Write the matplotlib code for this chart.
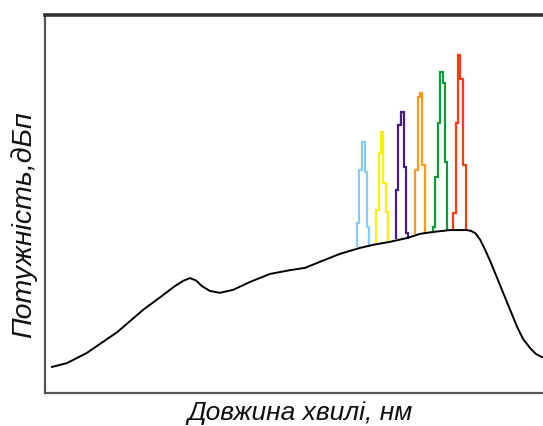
import numpy as np
import matplotlib
matplotlib.use("Agg")
import matplotlib.pyplot as plt

# ASE spectrum envelope (wavelength, power) in arbitrary units 0..100
wavelength = [1.4, 4.4, 8.4, 14.5, 19.7, 23.7, 26.1, 27.8, 29.1, 30.3, 31.5, 33.1,
              35.1, 37.8, 41.2, 45.2, 49.2, 52.2, 55.2, 59.2, 63.3, 65.9, 69.3,
              72.7, 75.3, 77.9, 81.3, 84.7, 85.5, 86.4, 87.4, 88.4, 89.4, 90.8,
              92.0, 93.4, 94.8, 96.0, 97.4, 98.6, 99.8]
power = [6.9, 7.9, 10.6, 16.1, 22.0, 25.9, 28.3, 29.7, 30.4, 29.8, 28.3, 27.0,
         26.5, 27.3, 29.4, 31.5, 32.5, 33.1, 34.7, 36.8, 38.4, 39.2, 40.0,
         41.0, 42.1, 42.6, 43.1, 43.1, 42.9, 42.3, 40.5, 37.8, 34.9, 30.4,
         26.5, 22.0, 17.5, 14.3, 11.9, 10.3, 9.5]

# WDM channels: step edges (wavelength) and step levels (power)
channel_colors = ["#86cdf8", "#f7f200", "#4a1a86", "#ff9a1a", "#0f9a3a", "#ff3b12"]
channel_edges = [
    [62.65, 63.15, 63.65, 64.16, 64.66, 65.06],
    [66.47, 66.97, 67.47, 67.97, 68.47, 68.88],
    [70.48, 70.98, 71.49, 71.99, 72.49, 72.89],
    [74.30, 74.80, 75.30, 75.80, 76.31],
    [77.91, 78.31, 78.82, 79.32, 79.82, 80.32, 80.72],
    [81.93, 82.43, 82.93, 83.43, 83.94, 84.44],
]
channel_levels = [
    [44.97, 58.99, 66.40, 58.47, 43.92],
    [48.41, 63.49, 69.05, 55.56, 47.88],
    [53.70, 70.90, 74.34, 59.79, 42.33],
    [58.99, 78.31, 79.37, 60.32],
    [43.92, 57.14, 71.43, 84.92, 82.01, 61.11],
    [47.62, 71.43, 89.42, 83.07, 60.32],
]

fig = plt.figure(figsize=(5.43, 4.26), dpi=100)
ax = fig.add_axes([45 / 543, 33 / 426, 1 - 45 / 543, 378 / 426])

for edges, levels, color in zip(channel_edges, channel_levels, channel_colors):
    base = np.interp(np.mean(edges), wavelength, power)
    ax.stairs(levels, edges, baseline=base, fill=False, color=color, lw=1.6)

ax.plot(wavelength, power, color="black", lw=1.4, zorder=3)

ax.set_xlim(0, 100)
ax.set_ylim(0, 100)
ax.set_xticks([])
ax.set_yticks([])
ax.spines["right"].set_visible(False)
ax.spines["top"].set_linewidth(2.6)
ax.spines["top"].set_color("#333333")
for side in ["left", "bottom"]:
    ax.spines[side].set_linewidth(1.6)
    ax.spines[side].set_color("#555555")

label_font = dict(family="Liberation Sans", style="italic", color="#111111")
fig.text(300 / 543, 1 - 413 / 426, "Довжина хвилі, нм", ha="center", va="center",
         fontsize=19, **label_font)
fig.text(24 / 543, 1 - 225 / 426, "Потужність,дБп", ha="center", va="center",
         rotation=90, fontsize=20.5, **label_font)

fig.savefig("out.png", dpi=100)
